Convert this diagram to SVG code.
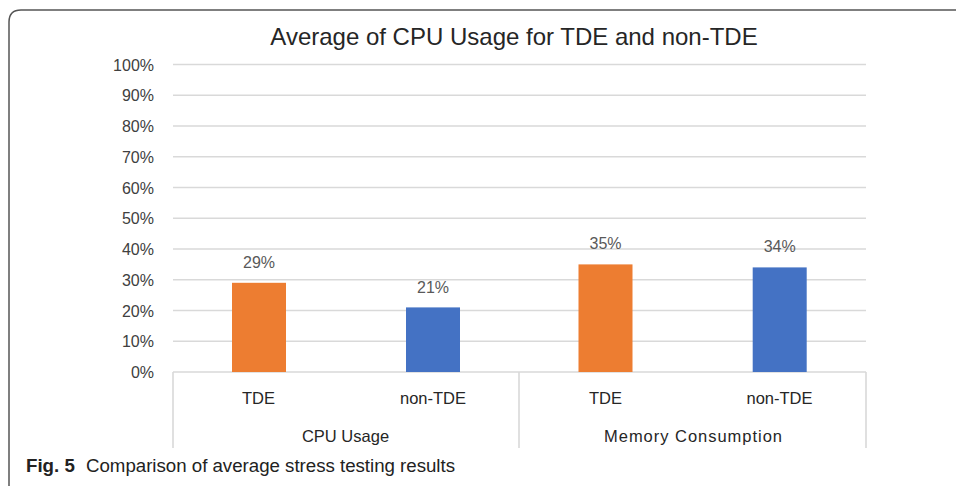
<svg xmlns="http://www.w3.org/2000/svg" width="956" height="486" viewBox="0 0 956 486">
<style>
.grid{stroke:#d9d9d9;stroke-width:1.6;fill:none}
.ytick{font-family:"Liberation Sans",Arial,sans-serif;font-size:16px;fill:#404040;text-anchor:end}
.val{font-family:"Liberation Sans",Arial,sans-serif;font-size:16px;fill:#595959;text-anchor:middle}
.cat{font-family:"Liberation Sans",Arial,sans-serif;font-size:16.5px;fill:#262626;text-anchor:middle}
.tde{fill:#ed7d31}
.non{fill:#4472c4}
</style>
<rect width="956" height="486" fill="#ffffff"/>
<path d="M956 10 H21 Q9 10 9 22 V486" fill="none" stroke="#555" stroke-width="1.5"/>
<text x="514" y="45" font-family="'Liberation Sans',Arial,sans-serif" font-size="24" fill="#262626" text-anchor="middle">Average of CPU Usage for TDE and non-TDE</text>
<g id="grid">
<line class="grid" x1="173" y1="64.5" x2="866" y2="64.5"/>
<line class="grid" x1="173" y1="95.2" x2="866" y2="95.2"/>
<line class="grid" x1="173" y1="126" x2="866" y2="126"/>
<line class="grid" x1="173" y1="156.7" x2="866" y2="156.7"/>
<line class="grid" x1="173" y1="187.5" x2="866" y2="187.5"/>
<line class="grid" x1="173" y1="218.2" x2="866" y2="218.2"/>
<line class="grid" x1="173" y1="249" x2="866" y2="249"/>
<line class="grid" x1="173" y1="279.7" x2="866" y2="279.7"/>
<line class="grid" x1="173" y1="310.5" x2="866" y2="310.5"/>
<line class="grid" x1="173" y1="341.2" x2="866" y2="341.2"/>
<line class="grid" x1="173" y1="372" x2="866" y2="372"/>
<line class="grid" x1="173" y1="372" x2="173" y2="448"/>
<line class="grid" x1="519" y1="372" x2="519" y2="448"/>
<line class="grid" x1="866" y1="372" x2="866" y2="448"/>
</g>
<g id="yaxis">
<text class="ytick" x="154" y="70.5">100%</text>
<text class="ytick" x="154" y="101.2">90%</text>
<text class="ytick" x="154" y="132">80%</text>
<text class="ytick" x="154" y="162.7">70%</text>
<text class="ytick" x="154" y="193.5">60%</text>
<text class="ytick" x="154" y="224.2">50%</text>
<text class="ytick" x="154" y="255">40%</text>
<text class="ytick" x="154" y="285.7">30%</text>
<text class="ytick" x="154" y="316.5">20%</text>
<text class="ytick" x="154" y="347.2">10%</text>
<text class="ytick" x="154" y="378">0%</text>
</g>
<g id="bar-cpu-tde">
<rect class="tde" x="232" y="282.8" width="54" height="89.2"/>
<text class="val" x="259" y="268">29%</text>
</g>
<g id="bar-cpu-non">
<rect class="non" x="406" y="307.4" width="54" height="64.6"/>
<text class="val" x="433" y="292.5">21%</text>
</g>
<g id="bar-mem-tde">
<rect class="tde" x="578.5" y="264.4" width="54" height="107.6"/>
<text class="val" x="605.5" y="249">35%</text>
</g>
<g id="bar-mem-non">
<rect class="non" x="752.7" y="267.4" width="54" height="104.6"/>
<text class="val" x="779.7" y="252">34%</text>
</g>
<g id="categories">
<text class="cat" x="258.5" y="404">TDE</text>
<text class="cat" x="433" y="404">non-TDE</text>
<text class="cat" x="605.5" y="404">TDE</text>
<text class="cat" x="779.5" y="404">non-TDE</text>
<text class="cat" x="345.5" y="441.5">CPU Usage</text>
<text class="cat" x="693" y="441.5" textLength="178">Memory Consumption</text>
</g>
<text x="26" y="472" font-family="'Liberation Sans',Arial,sans-serif" font-size="18.7" fill="#222"><tspan font-weight="bold">Fig. 5</tspan><tspan x="86" textLength="369">Comparison of average stress testing results</tspan></text>
</svg>
